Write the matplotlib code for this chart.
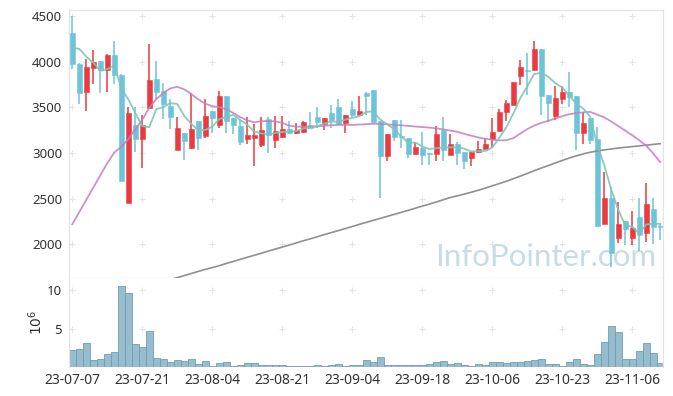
import matplotlib
matplotlib.use('Agg')
import matplotlib.pyplot as plt

# ---------------- data ----------------
tick_labels = ['23-07-07', '23-07-21', '23-08-04', '23-08-21', '23-09-04',
               '23-09-18', '23-10-06', '23-10-23', '23-11-06']
tick_index = [0, 10, 20, 30, 40, 50, 60, 70, 80]

opens = [4317, 3974, 3671, 3934, 4007, 3910, 4071, 3852, 2449, 3305,
         3148, 3496, 3810, 3679, 3512, 3038, 3220, 3056, 3348, 3186,
         3460, 3312, 3624, 3385, 3296, 3157, 3167, 3091, 3372, 3146,
         3172, 3259, 3222, 3233, 3303, 3394, 3320, 3436, 3503, 3332,
         3482, 3416, 3655, 3690, 3352, 2970, 3361, 3190, 3164, 2993,
         3055, 2995, 2993, 3248, 2983, 3097, 3010, 2940, 3015, 3040,
         3152, 3244, 3444, 3527, 3846, 3910, 3910, 4139, 3635, 3407,
         3596, 3671, 3620, 3222, 3383, 3153, 2219, 2504, 2073, 2255,
         2073, 2295, 2120, 2383, 2200]
highs = [4500, 3990, 4033, 4126, 4012, 4088, 4223, 3870, 3509, 3507,
         3414, 4190, 4005, 3763, 3588, 3394, 3222, 3653, 3350, 3590,
         3460, 3679, 3624, 3386, 3361, 3390, 3317, 3390, 3390, 3405,
         3405, 3354, 3332, 3350, 3445, 3500, 3383, 3530, 3590, 3414,
         3564, 3620, 3665, 3690, 3352, 3208, 3361, 3361, 3164, 3120,
         3226, 2995, 3299, 3390, 3208, 3120, 3010, 3010, 3135, 3160,
         3379, 3485, 3585, 3777, 4018, 4090, 4226, 4139, 3635, 3730,
         3730, 3885, 3620, 3449, 3383, 3288, 2795, 2631, 2467, 2255,
         2370, 2510, 2675, 2505, 2230]
lows = [3918, 3533, 3460, 3755, 3656, 3670, 3758, 2695, 2449, 3016,
        2834, 3496, 3590, 3375, 3261, 3038, 2920, 3045, 3031, 3168,
        3215, 3279, 3215, 3210, 3087, 3102, 2857, 3070, 2998, 3058,
        3165, 3210, 3208, 3222, 3277, 3277, 3255, 3275, 3306, 3224,
        3395, 3416, 3412, 3330, 2503, 2916, 3130, 3058, 2941, 2993,
        2869, 2869, 2916, 2916, 2983, 2871, 2830, 2860, 3000, 3040,
        3070, 3244, 3350, 3527, 3740, 3633, 3910, 3412, 3343, 3361,
        3533, 3505, 3033, 3098, 3098, 2204, 2219, 1755, 2011, 1990,
        1993, 1930, 2025, 2000, 2045]
closes = [3971, 3660, 3942, 3996, 3905, 4071, 3856, 2695, 3436, 3157,
          3305, 3799, 3671, 3540, 3398, 3275, 3135, 3263, 3159, 3405,
          3386, 3624, 3345, 3312, 3124, 3197, 3200, 3252, 3200, 3241,
          3263, 3222, 3248, 3339, 3277, 3339, 3383, 3361, 3318, 3414,
          3414, 3460, 3626, 3343, 2970, 3208, 3179, 3175, 2993, 3066,
          2978, 2988, 3208, 3036, 3097, 3004, 2915, 3010, 3044, 3098,
          3226, 3449, 3544, 3777, 3938, 3900, 4139, 3625, 3551, 3602,
          3671, 3618, 3215, 3328, 3142, 2204, 2504, 1901, 2219, 2171,
          2175, 2102, 2441, 2193, 2190]

ma5 = [4157, 4139, 4055, 3989, 3900, 3918, 3957, 3710, 3588, 3440,
       3293, 3282, 3480, 3502, 3546, 3537, 3405, 3320, 3250, 3252,
       3290, 3372, 3392, 3420, 3360, 3310, 3235, 3216, 3200, 3220,
       3230, 3234, 3240, 3268, 3278, 3292, 3322, 3345, 3342, 3365,
       3385, 3402, 3450, 3455, 3366, 3315, 3260, 3182, 3110, 3115,
       3072, 3044, 3052, 3060, 3062, 3062, 3048, 3016, 3020, 3022,
       3059, 3165, 3280, 3430, 3600, 3730, 3865, 3878, 3835, 3766,
       3718, 3630, 3540, 3487, 3396, 3090, 2868, 2600, 2380, 2205,
       2194, 2118, 2218, 2225, 2225]
ma20 = [2219, 2353, 2487, 2621, 2755, 2889, 3005, 3068, 3150, 3260,
        3365, 3495, 3590, 3655, 3708, 3725, 3697, 3645, 3588, 3540,
        3512, 3502, 3478, 3438, 3392, 3358, 3336, 3348, 3350, 3346,
        3330, 3300, 3288, 3287, 3287, 3292, 3298, 3304, 3308, 3307,
        3308, 3311, 3316, 3320, 3318, 3314, 3308, 3303, 3297, 3290,
        3284, 3278, 3270, 3258, 3246, 3232, 3210, 3190, 3170, 3155,
        3145, 3138, 3140, 3162, 3212, 3262, 3300, 3330, 3352, 3378,
        3402, 3425, 3436, 3445, 3450, 3420, 3390, 3345, 3295, 3245,
        3195, 3140, 3080, 2995, 2900]
ma120 = [None] * 14 + [
        1612, 1635, 1658, 1680, 1703, 1725, 1745, 1766, 1790, 1812,
        1835, 1858, 1880, 1902, 1925, 1948, 1970, 1992, 2015, 2038,
        2060, 2083, 2106, 2128, 2150, 2172, 2195, 2218, 2240, 2262,
        2284, 2306, 2328, 2350, 2372, 2395, 2418, 2440, 2463, 2488,
        2512, 2530, 2550, 2570, 2592, 2615, 2640, 2665, 2690, 2718,
        2746, 2776, 2806, 2835, 2862, 2890, 2918, 2945, 2968, 2990,
        3008, 3022, 3034, 3044, 3054, 3062, 3070, 3078, 3086, 3094,
        3102]
volume = [2.2, 2.3, 3.1, 0.9, 1.0, 1.7, 1.95, 10.5, 9.6, 3.0,
          2.6, 4.7, 1.15, 1.0, 0.6, 0.88, 0.75, 1.0, 0.35, 0.75,
          0.1, 0.5, 0.6, 0.1, 0.22, 0.5, 0.5, 0.22, 0.22, 0.22,
          0.22, 0.1, 0.1, 0.1, 0.1, 0.22, 0.1, 0.22, 0.35, 0.1,
          0.22, 0.22, 0.88, 0.6, 1.3, 0.22, 0.22, 0.22, 0.22, 0.22,
          0.22, 0.35, 0.6, 0.75, 0.35, 0.5, 0.22, 0.1, 0.35, 0.22,
          0.6, 0.6, 0.5, 0.6, 0.6, 0.75, 0.88, 1.0, 0.35, 0.35,
          0.1, 0.6, 1.0, 0.35, 0.22, 1.7, 3.25, 5.3, 4.55, 1.0,
          1.0, 2.05, 3.1, 1.8, 0.5]

price_ticks = [2000, 2500, 3000, 3500, 4000, 4500]
vol_ticks = [5, 10]

# ---------------- styling ----------------
plt.rcParams['font.family'] = ['Noto Sans', 'DejaVu Sans']
UP = '#ea3a3f'
DOWN = '#6cc4da'
TEXT = '#333333'

W, H = 673, 396
fig = plt.figure(figsize=(W / 100, H / 100), dpi=100)
ax = fig.add_axes([69 / W, 1 - 278 / H, 594 / W, 268 / H])
axv = fig.add_axes([69 / W, 1 - 367 / H, 594 / W, 89 / H], sharex=ax)

n = len(closes)
xs = list(range(n))

# watermark
ax.text(0.988, 0.025, 'InfoPointer.com', transform=ax.transAxes, ha='right',
        va='bottom', fontsize=22.5, color='#c9dbe5', family='Lato',
        zorder=0)

# grid crosses
for gx in tick_index:
    for gy in price_ticks:
        ax.plot(gx, gy, marker='+', ms=5, mew=0.8, color='#e4e4e4', zorder=1)
    for gy in vol_ticks:
        axv.plot(gx, gy, marker='+', ms=5, mew=0.8, color='#e4e4e4', zorder=1)

# candles
for i in xs:
    o, h, l, c = opens[i], highs[i], lows[i], closes[i]
    col = UP if c >= o else DOWN
    ax.vlines(i, l, h, color=col, linewidth=1.1, zorder=2)
    body = max(abs(c - o), 8)
    ax.bar(i, body, bottom=min(o, c), width=0.66, color=col,
           edgecolor=col, linewidth=0.4, zorder=3)

# moving averages
ax.plot(xs, ma120, color='#8f8f8f', linewidth=1.2, zorder=4)
ax.plot(xs, ma20, color='#c47fbf', linewidth=1.3, alpha=0.85, zorder=4)
ax.plot(xs, ma5, color='#7cc6b6', linewidth=1.3, alpha=0.9, zorder=5)

ax.set_ylim(1631, 4566)
ax.set_xlim(-0.47, 84.4)
ax.set_yticks(price_ticks)
ax.tick_params(axis='y', length=0, pad=5, labelsize=9.5, labelcolor=TEXT)
ax.tick_params(axis='x', length=0, labelbottom=False)
for s in ax.spines.values():
    s.set_color('#e3e3e3')
    s.set_linewidth(0.9)

# volume
axv.bar(xs, volume, width=1.0, color='#96bccd', edgecolor='#6d9fb6',
        linewidth=0.6, zorder=2)
axv.set_ylim(0, 11.6)
axv.set_yticks(vol_ticks)
axv.set_xticks(tick_index)
axv.set_xticklabels(tick_labels)
axv.tick_params(axis='y', length=0, pad=5, labelsize=9.5, labelcolor=TEXT)
axv.tick_params(axis='x', length=0, pad=4, labelsize=10, labelcolor=TEXT)
axv.set_ylabel('$10^6$', fontsize=10, color=TEXT, labelpad=1)
for name, s in axv.spines.items():
    s.set_color('#e3e3e3')
    s.set_linewidth(0.9)
axv.spines['bottom'].set_visible(False)
axv.spines['top'].set_visible(False)

fig.savefig('out.png', dpi=100, facecolor='white')
